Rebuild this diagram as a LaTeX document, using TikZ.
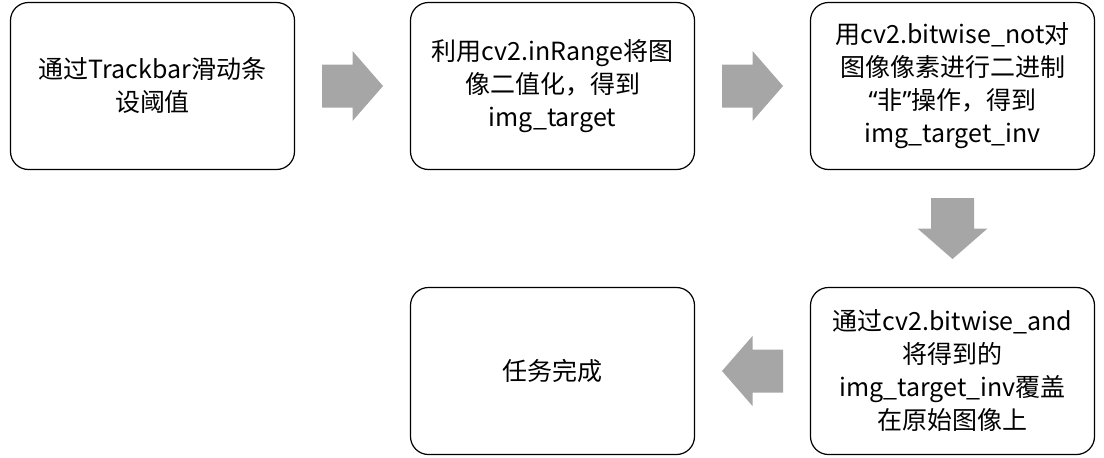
\documentclass[tikz,border=0pt]{standalone}
\usepackage{fontspec}
\setmainfont{Noto Sans CJK SC}
\newfontfamily\quotefont{Noto Sans}
\usetikzlibrary{calc}
\definecolor{arrowgray}{HTML}{A6A6A6}
\tikzset{
  stepbox/.style={draw, line width=1.2pt, rounded corners=18pt, minimum width=284pt,
    minimum height=167pt, align=center, font=\fontsize{25}{33}\selectfont},
  blockarrow/.pic={\fill[arrowgray] (-30.5,-21.5) -- (0,-21.5) -- (0,-35) -- (30.5,0)
    -- (0,35) -- (0,21.5) -- (-30.5,21.5) -- cycle;}
}
\begin{document}
\begin{tikzpicture}[x=1pt,y=-1pt]
  \useasboundingbox (0,0) rectangle (1104,458);
  \node[stepbox] (trackbar) at (152.5,86) {通过Trackbar滑动条\\设阈值};
  \node[stepbox] (inrange) at (552.5,86) {利用cv2.inRange将图\\像二值化，得到\\img\_target};
  \node[stepbox] (bitnot) at (952.5,86) {用cv2.bitwise\_not对\\图像像素进行二进制\\{\quotefont“}非{\quotefont”}操作，得到\\img\_target\_inv};
  \node[stepbox] (bitand) at (952.5,371) {通过cv2.bitwise\_and\\将得到的\\img\_target\_inv覆盖\\在原始图像上};
  \node[stepbox] (done) at (552.5,371) {任务完成};
  % block arrows between the steps
  \pic at ($(trackbar.east)!0.5!(inrange.west)$) {blockarrow};
  \pic at ($(inrange.east)!0.5!(bitnot.west)$) {blockarrow};
  \pic[rotate=-90] at ($(bitnot.south)!0.5!(bitand.north)$) {blockarrow};
  \pic[rotate=180] at ($(bitand.west)!0.5!(done.east)$) {blockarrow};
\end{tikzpicture}
\end{document}
